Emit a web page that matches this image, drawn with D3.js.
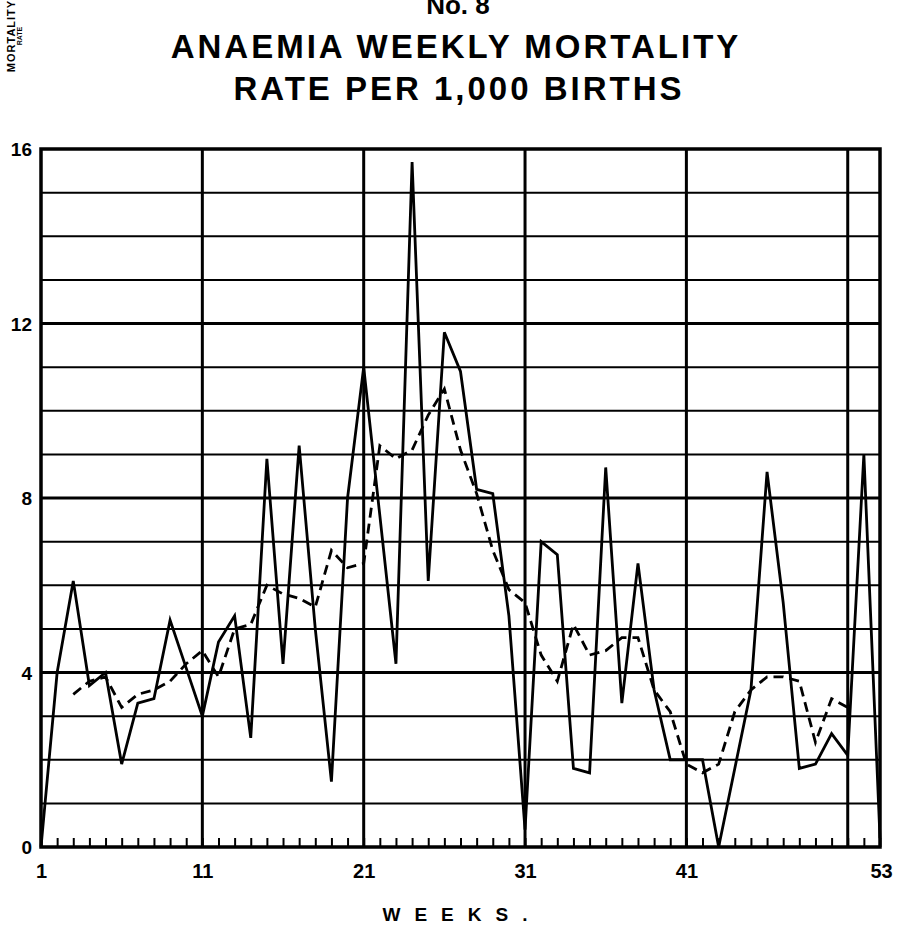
<!DOCTYPE html>
<html>
<head>
<meta charset="utf-8">
<script src="https://cdn.jsdelivr.net/npm/d3@7"></script>
<style>
  body { margin: 0; background: #fff; }
  text { font-family: "Liberation Sans", Arial, sans-serif; font-weight: bold; fill: #000; }
</style>
</head>
<body>
<script>
// weekly anaemia mortality rate per 1,000 births (solid line), weeks 1..53
var weeklyRate = [0.0, 4.0, 6.1, 3.7, 4.0, 1.9, 3.3, 3.4, 5.2, 4.1,
                  3.0, 4.7, 5.3, 2.5, 8.9, 4.2, 9.2, 5.0, 1.5, 8.0,
                  11.0, 7.6, 4.2, 15.7, 6.1, 11.8, 10.9, 8.2, 8.1, 5.3,
                  0.4, 7.0, 6.7, 1.8, 1.7, 8.7, 3.3, 6.5, 3.6, 2.0,
                  2.0, 2.0, 0.0, 1.8, 3.6, 8.6, 5.6, 1.8, 1.9, 2.6,
                  2.1, 9.0, 0.2];
// smoothed rate (dashed line), weeks 3..51
var firstAvgWeek = 3;
var smoothedRate = [3.5, 3.8, 3.9, 3.2, 3.5, 3.6, 3.8, 4.2, 4.5, 3.9,
                    5.0, 5.1, 6.0, 5.8, 5.7, 5.5, 6.8, 6.4, 6.5, 9.2,
                    8.9, 9.1, 9.9, 10.5, 9.1, 8.1, 6.8, 5.9, 5.6, 4.4,
                    3.8, 5.1, 4.4, 4.5, 4.8, 4.8, 3.6, 3.1, 1.9, 1.7,
                    1.9, 3.1, 3.6, 3.9, 3.9, 3.8, 2.4, 3.4, 3.2];
var weekLabels = [1, 11, 21, 31, 41, 53];
var weekGrid = [11, 21, 31, 41, 51];
var rateLabels = [0, 4, 8, 12, 16];

var width = 904, height = 926;
var plotLeft = 41, plotRight = 880, plotTop = 149, plotBottom = 847;

var svg = d3.select("body").append("svg")
  .attr("width", width)
  .attr("height", height);

var x = d3.scaleLinear().domain([1, 53]).range([plotLeft, plotRight]);
var y = d3.scaleLinear().domain([0, 16]).range([plotBottom, plotTop]);

// horizontal grid, one line per unit, heavier every 4
svg.append("g")
  .selectAll("line")
  .data(d3.range(1, 16))
  .enter().append("line")
  .attr("x1", plotLeft).attr("x2", plotRight)
  .attr("y1", function(d) { return y(d); })
  .attr("y2", function(d) { return y(d); })
  .attr("stroke", "#000")
  .attr("stroke-width", function(d) { return d % 4 == 0 ? 3 : 2; });

// vertical grid every 10 weeks
svg.append("g")
  .selectAll("line")
  .data(weekGrid)
  .enter().append("line")
  .attr("x1", function(d) { return x(d); })
  .attr("x2", function(d) { return x(d); })
  .attr("y1", plotTop).attr("y2", plotBottom)
  .attr("stroke", "#000")
  .attr("stroke-width", 3);

// week ticks along the bottom
svg.append("g")
  .attr("transform", "translate(0," + plotBottom + ")")
  .call(d3.axisBottom(x).tickValues(d3.range(1, 54)).tickSize(-9).tickFormat(""))
  .call(function(g) {
    g.select(".domain").remove();
    g.selectAll("line").attr("stroke", "#000").attr("stroke-width", 2);
  });

// frame
svg.append("rect")
  .attr("x", plotLeft).attr("y", plotTop)
  .attr("width", plotRight - plotLeft).attr("height", plotBottom - plotTop)
  .attr("fill", "none")
  .attr("stroke", "#000")
  .attr("stroke-width", 3.5);

// axis labels
svg.append("g")
  .attr("transform", "translate(" + (plotLeft - 6) + ",0)")
  .call(d3.axisLeft(y).tickValues(rateLabels).tickSize(0).tickFormat(d3.format("d")))
  .call(function(g) {
    g.select(".domain").remove();
    g.selectAll("text")
      .attr("font-size", 19)
      .attr("dy", "0.35em")
      .style("font-family", "'Liberation Sans', Arial, sans-serif")
      .style("font-weight", "bold");
  });

svg.append("g")
  .attr("transform", "translate(0," + (plotBottom + 14) + ")")
  .call(d3.axisBottom(x).tickValues(weekLabels).tickSize(0).tickFormat(d3.format("d")))
  .call(function(g) {
    g.select(".domain").remove();
    g.selectAll("text")
      .attr("font-size", 20)
      .style("font-family", "'Liberation Sans', Arial, sans-serif")
      .style("font-weight", "bold")
      .attr("text-anchor", function(d) { return d == 53 ? "start" : "middle"; })
      .attr("dx", function(d) { return d == 53 ? -10 : 0; });
  });

// lines
var line = d3.line()
  .x(function(d) { return x(d[0]); })
  .y(function(d) { return y(d[1]); });

svg.append("path")
  .datum(smoothedRate.map(function(v, i) { return [i + firstAvgWeek, v]; }))
  .attr("d", line)
  .attr("fill", "none")
  .attr("stroke", "#000")
  .attr("stroke-width", 2.8)
  .attr("stroke-dasharray", "10,6");

svg.append("path")
  .datum(weeklyRate.map(function(v, i) { return [i + 1, v]; }))
  .attr("d", line)
  .attr("fill", "none")
  .attr("stroke", "#000")
  .attr("stroke-width", 2.8)
  .attr("stroke-linejoin", "miter");

// titles
svg.append("text")
  .attr("x", 458).attr("y", 14)
  .attr("text-anchor", "middle")
  .attr("font-size", 26)
  .text("No. 8");

svg.append("text")
  .attr("x", 456).attr("y", 58)
  .attr("text-anchor", "middle")
  .attr("font-size", 33)
  .attr("letter-spacing", 3)
  .text("ANAEMIA  WEEKLY  MORTALITY");

svg.append("text")
  .attr("x", 459).attr("y", 100)
  .attr("text-anchor", "middle")
  .attr("font-size", 33)
  .attr("letter-spacing", 3)
  .text("RATE  PER  1,000  BIRTHS");

svg.append("text")
  .attr("transform", "translate(15,36) rotate(-90)")
  .attr("text-anchor", "middle")
  .attr("font-size", 11)
  .attr("letter-spacing", 1)
  .text("MORTALITY");

svg.append("text")
  .attr("transform", "translate(22,36) rotate(-90)")
  .attr("text-anchor", "middle")
  .attr("font-size", 7)
  .text("RATE");

svg.append("text")
  .attr("x", 462).attr("y", 921)
  .attr("text-anchor", "middle")
  .attr("font-size", 19)
  .attr("letter-spacing", 14)
  .text("WEEKS.");
</script>
</body>
</html>
